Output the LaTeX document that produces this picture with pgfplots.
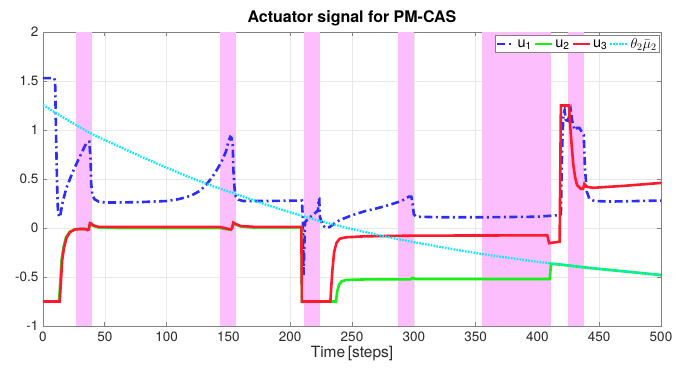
\documentclass[border=0pt]{standalone}
\usepackage{fontspec}
\setmainfont{TeX Gyre Heros}
\usepackage{pgfplots}
\pgfplotsset{compat=1.18}

\definecolor{ublue}{RGB}{45,45,245}
\definecolor{ugreen}{RGB}{20,242,20}
\definecolor{ured}{RGB}{255,25,45}
\definecolor{ucyan}{RGB}{0,238,255}
\definecolor{band}{RGB}{252,190,252}
\definecolor{axgray}{RGB}{130,130,130}
\definecolor{txtgray}{RGB}{40,40,40}
\definecolor{gridgray}{RGB}{232,232,232}

\begin{document}
\begin{tikzpicture}
\begin{axis}[
  at={(0,0)}, anchor=south west,
  scale only axis, width=618pt, height=294pt,
  xmin=0, xmax=500, ymin=-1, ymax=2,
  xtick={0,50,...,500},
  xticklabels={0,50,100,150,200,250,300,350,400,450,500},
  ytick={-1,-0.5,0,0.5,1,1.5,2},
  yticklabels={-1,-0.5,0,0.5,1,1.5,2},
  tick align=inside, major tick length=4pt,
  tick style={axgray, line width=0.6pt},
  axis line style={axgray, line width=0.7pt},
  grid=major, grid style={gridgray, line width=0.5pt},
  ticklabel style={font=\fontsize{13.5}{15}\selectfont, text=txtgray},
  xticklabel style={yshift=-2pt},
  yticklabel style={xshift=-1pt},
  title={\bfseries Actuator signal for PM-CAS},
  title style={font=\fontsize{16}{18}\selectfont, text=black, yshift=-4pt},
  xlabel={Time\,[steps]},
  xlabel style={font=\fontsize{15.5}{17}\selectfont, text=txtgray, yshift=2pt},
  legend columns=4,
  legend style={at={(1,1)}, anchor=north east, xshift=-1pt, yshift=-3pt,
    font=\fontsize{14.5}{15}\selectfont, draw=axgray, line width=0.6pt,
    inner xsep=1pt, inner ysep=1pt,
    /tikz/every even column/.append style={column sep=0pt}},
  legend image code/.code={\draw[#1] (0pt,0pt) -- (17pt,0pt);},
  legend cell align=left,
]
% shaded switching intervals
\addplot[fill=band, draw=none, forget plot] coordinates {(27,-1) (27,2) (40,2) (40,-1)} -- cycle;
\addplot[fill=band, draw=none, forget plot] coordinates {(143,-1) (143,2) (156,2) (156,-1)} -- cycle;
\addplot[fill=band, draw=none, forget plot] coordinates {(211,-1) (211,2) (224,2) (224,-1)} -- cycle;
\addplot[fill=band, draw=none, forget plot] coordinates {(287,-1) (287,2) (300,2) (300,-1)} -- cycle;
\addplot[fill=band, draw=none, forget plot] coordinates {(355,-1) (355,2) (411,2) (411,-1)} -- cycle;
\addplot[fill=band, draw=none, forget plot] coordinates {(425,-1) (425,2) (438,2) (438,-1)} -- cycle;

% u1
\addplot[ublue, line width=2.6pt, dash pattern=on 8pt off 3.5pt on 2pt off 3.5pt] coordinates {
(0,1.53)(9,1.53)(9.8,1.5)(10.5,1.0)(11.3,0.5)(12,0.2)(13,0.11)(14,0.13)(16,0.27)(19,0.41)
(24,0.57)(28,0.68)(31,0.76)(34,0.84)(36,0.88)(37.5,0.88)(38.5,0.7)(39,0.45)(40,0.33)
(42,0.29)(45,0.27)(50,0.26)(60,0.26)(80,0.265)(100,0.275)(110,0.295)(120,0.33)(127,0.38)
(132,0.44)(137,0.52)(141,0.6)(145,0.69)(148,0.78)(150,0.88)(151.5,0.93)(152.5,0.92)
(153.5,0.85)(154,0.6)(155,0.4)(156,0.32)(158,0.29)(162,0.275)(180,0.275)(209.5,0.28)
(210.2,0.1)(210.8,-0.48)(211.4,-0.2)(212,0.06)(215,0.1)(219,0.14)(222.5,0.18)(223,0.3)
(223.5,0.3)(224,0.12)(226,0.03)(229,0.0)(232,0.01)(236,0.05)(240,0.08)(244,0.1)(250,0.13)
(260,0.17)(270,0.2)(280,0.235)(290,0.275)(296,0.32)(298,0.32)(299,0.25)(300,0.14)(302,0.115)
(320,0.11)(360,0.11)(400,0.115)(416,0.13)(419,0.14)(420,0.8)(421,1.15)(422,1.2)(423,1.1)
(424,1.07)(426,1.15)(427,1.2)(428,1.1)(430,1.0)(432,1.02)(434,1.02)(436,0.98)(437.5,0.95)
(438.5,0.6)(440,0.37)(442,0.3)(446,0.275)(460,0.27)(500,0.28)};
\addlegendentry{u\textsubscript{1}}

% u2
\addplot[ugreen, line width=2.6pt] coordinates {
(0,-0.75)(13,-0.75)(14,-0.55)(15,-0.33)(16.5,-0.2)(18.5,-0.1)(21.5,-0.04)(25.5,-0.015)
(30,-0.01)(34,-0.01)(36,-0.02)(37,-0.015)(38,0.045)(39,0.04)(41,0.02)(45,0.005)(60,0.0)
(143,0.0)(150,-0.015)(152,-0.02)(153,-0.005)(154,0.05)(156,0.035)(160,0.015)(170,0.005)
(209,0.005)(209.5,-0.75)(237,-0.75)(238,-0.65)(239.5,-0.58)(241.5,-0.545)(245,-0.53)
(260,-0.525)(297,-0.525)(299,-0.51)(301,-0.52)(410,-0.52)(411,-0.365)(420,-0.375)
(440,-0.405)(460,-0.43)(480,-0.455)(500,-0.48)};
\addlegendentry{u\textsubscript{2}}

% u3
\addplot[ured, line width=2.6pt] coordinates {
(0,-0.75)(13.5,-0.75)(14.5,-0.55)(15.5,-0.33)(17,-0.2)(19,-0.1)(22,-0.04)(26,-0.015)
(30,-0.01)(34,-0.01)(36,-0.02)(37,-0.015)(38,0.05)(39,0.045)(41,0.025)(45,0.012)(60,0.01)
(143,0.01)(150,-0.01)(152,-0.015)(153,0.0)(154,0.055)(156,0.04)(160,0.02)(170,0.012)
(209,0.012)(209.5,-0.75)(232.5,-0.75)(234,-0.45)(235.5,-0.25)(237.5,-0.15)(240,-0.11)
(245,-0.095)(260,-0.085)(300,-0.078)(408,-0.075)(409.5,-0.155)(418,-0.14)(419,1.25)
(425.5,1.25)(426.5,1.05)(427.5,0.88)(429,0.65)(430.5,0.52)(432,0.44)(435,0.4)(437,0.4)
(438,0.45)(440,0.42)(445,0.41)(470,0.43)(500,0.46)};
\addlegendentry{u\textsubscript{3}}

% theta_2 * mu_2
\addplot[ucyan, line width=2.3pt, dash pattern=on 1.6pt off 1.3pt] coordinates {
(0,1.255)(20,1.1)(40,0.955)(60,0.84)(80,0.725)(100,0.615)(120,0.51)(140,0.415)(160,0.33)
(180,0.24)(200,0.16)(220,0.085)(240,0.02)(260,-0.04)(280,-0.095)(300,-0.145)(320,-0.19)
(340,-0.235)(360,-0.275)(380,-0.31)(400,-0.345)(420,-0.375)(440,-0.405)(460,-0.43)
(480,-0.455)(500,-0.48)};
\addlegendentry{$\theta_2\bar{\mu}_2$}
\end{axis}
\pgfresetboundingbox
\path (-43pt,-45pt) rectangle (646pt,326pt);
\end{tikzpicture}
\end{document}
